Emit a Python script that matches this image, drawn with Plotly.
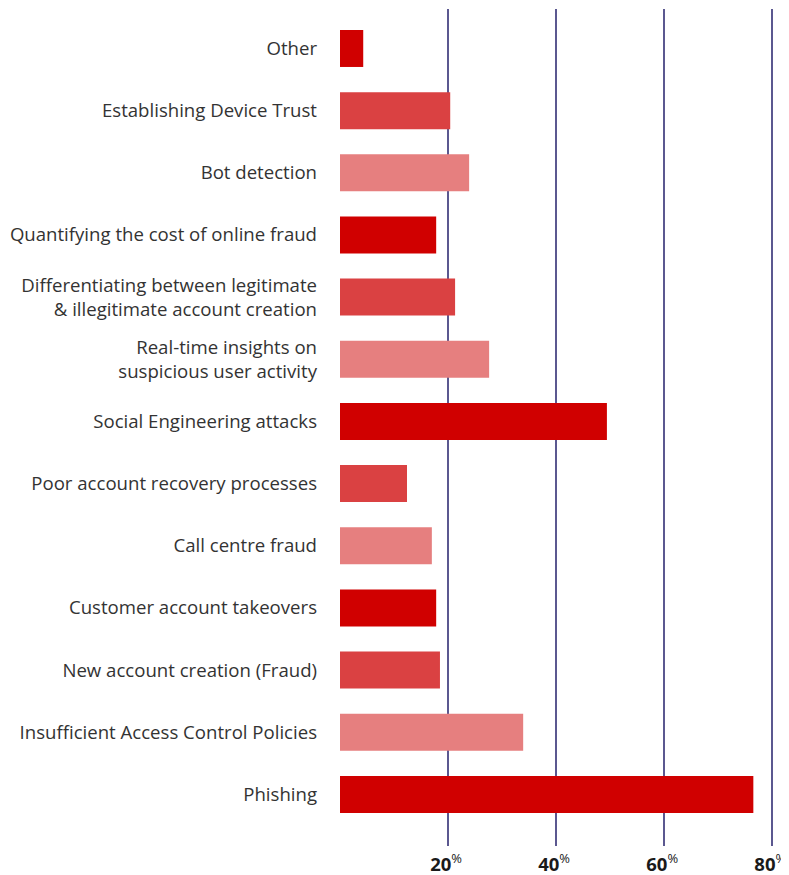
import plotly.graph_objects as go

# Top-to-bottom order as in the reference
categories = [
    "Other",
    "Establishing Device Trust",
    "Bot detection",
    "Quantifying the cost of online fraud",
    "Differentiating between legitimate<br>& illegitimate account creation",
    "Real-time insights on<br>suspicious user activity",
    "Social Engineering attacks",
    "Poor account recovery processes",
    "Call centre fraud",
    "Customer account takeovers",
    "New account creation (Fraud)",
    "Insufficient Access Control Policies",
    "Phishing",
]
values = [4.3, 20.4, 23.9, 17.8, 21.3, 27.6, 49.4, 12.4, 17.0, 17.8, 18.5, 33.9, 76.5]
tick_values = [20, 40, 60, 80]
tick_labels = ["<b>20</b><sup>%</sup>", "<b>40</b><sup>%</sup>", "<b>60</b><sup>%</sup>", "<b>80</b><sup>%</sup>"]

palette = ["#D00000", "#DA4142", "#E67F7F"]
colors = [palette[i % 3] for i in range(len(categories))]

# plot bottom-to-top so index 0 sits at the bottom
cats_b = categories[::-1]
vals_b = values[::-1]
cols_b = colors[::-1]

fig = go.Figure(
    go.Bar(
        y=cats_b,
        x=vals_b,
        orientation="h",
        marker=dict(color=cols_b, line=dict(width=0)),
        width=0.595,
        hoverinfo="skip",
    )
)

# the page body adds an 8px offset on the left and top
fig.update_layout(
    width=781,
    height=867,
    margin=dict(l=332, r=0, t=1, b=29, autoexpand=False),
    paper_bgcolor="white",
    plot_bgcolor="white",
    showlegend=False,
    font=dict(family="Open Sans", size=18.6, color="#333333"),
)
fig.update_xaxes(
    range=[0, 83.1],
    tickvals=tick_values,
    ticktext=tick_labels,
    showgrid=True,
    gridcolor="#5B5890",
    gridwidth=1.5,
    zeroline=False,
    showline=False,
    ticks="",
    tickfont=dict(family="Open Sans", size=18.5, color="#1a1a1a"),
    ticklabelstandoff=5,
    ticklabelshift=-2,
    ticklabeloverflow="allow",
    automargin=False,
    fixedrange=True,
)
fig.update_yaxes(
    type="category",
    categoryorder="array",
    categoryarray=cats_b,
    range=[-0.83, 12.635],
    showgrid=False,
    zeroline=False,
    showline=False,
    ticks="",
    ticklabelstandoff=22,
    tickfont=dict(family="Open Sans", size=18.6, color="#333333"),
    automargin=False,
    fixedrange=True,
)

fig.write_html("out.html")
